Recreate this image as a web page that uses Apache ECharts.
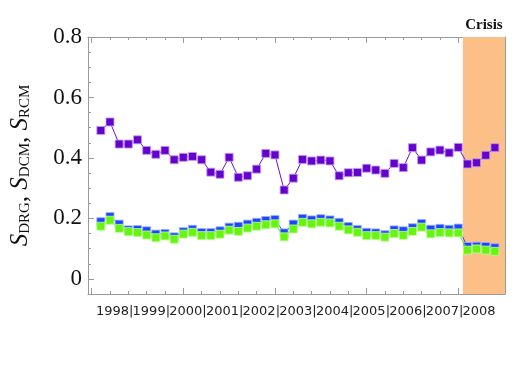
<!DOCTYPE html>
<html>
<head>
<meta charset="utf-8">
<script src="https://cdn.jsdelivr.net/npm/echarts@6/dist/echarts.min.js"></script>
<style>
  html, body { margin: 0; padding: 0; background: #fff; }
  #chart { width: 517px; height: 366px; }
</style>
</head>
<body>
<div id="chart"></div>
<script>
// quarterly values, 1998 Q1 .. 2008 Q4
const years = ['1998', '1999', '2000', '2001', '2002', '2003', '2004', '2005', '2006', '2007', '2008'];

const sDRG = [
  0.491, 0.519, 0.446, 0.446, 0.460, 0.425, 0.412, 0.425, 0.394, 0.402, 0.405,
  0.394, 0.353, 0.346, 0.402, 0.336, 0.341, 0.363, 0.415, 0.410, 0.294, 0.333,
  0.395, 0.390, 0.393, 0.390, 0.341, 0.351, 0.352, 0.366, 0.360, 0.349, 0.382,
  0.368, 0.434, 0.393, 0.420, 0.426, 0.417, 0.435, 0.380, 0.384, 0.409, 0.434
];
const sDCM = [
  0.189, 0.206, 0.181, 0.162, 0.163, 0.159, 0.148, 0.150, 0.139, 0.156, 0.164,
  0.153, 0.153, 0.159, 0.171, 0.174, 0.181, 0.187, 0.193, 0.196, 0.152, 0.181,
  0.200, 0.195, 0.199, 0.195, 0.187, 0.173, 0.163, 0.154, 0.152, 0.146, 0.162,
  0.159, 0.169, 0.183, 0.164, 0.167, 0.164, 0.168, 0.107, 0.108, 0.107, 0.103
];
const sRCM = [
  0.174, 0.194, 0.167, 0.156, 0.153, 0.145, 0.136, 0.142, 0.131, 0.148, 0.154,
  0.143, 0.143, 0.148, 0.161, 0.157, 0.168, 0.174, 0.179, 0.182, 0.139, 0.165,
  0.187, 0.182, 0.187, 0.185, 0.174, 0.162, 0.154, 0.143, 0.143, 0.138, 0.150,
  0.144, 0.157, 0.171, 0.149, 0.153, 0.152, 0.152, 0.095, 0.099, 0.095, 0.091
];

// crisis starts between 2007 Q4 and 2008 Q1
const crisisStart = 39.5;

const yLabels = [0, 0.2, 0.4, 0.6, 0.8];
const yMinorTicks = [-0.05, 0, 0.05, 0.1, 0.15, 0.2, 0.25, 0.3, 0.35, 0.4, 0.45, 0.5, 0.55, 0.6, 0.65, 0.7, 0.75, 0.8];
const xMinorTicks = [-1, 1, 3, 5, 7, 9, 11, 13, 15, 17, 19, 21, 23, 25, 27, 29, 31, 33, 35, 37, 39, 41, 43];
const xMajorTicks = [-1, 9, 19, 29, 39];

const xMin = -1.4, xMax = 44.1;
const yMin = -0.05, yMax = 0.8;
const frame = '#9a9a9a';

function pts(arr) {
  return arr.map((v, i) => [i, v]);
}

function xFrame(pos, ticks, len, line) {
  return {
    type: 'value', gridIndex: 0, position: pos, min: xMin, max: xMax,
    axisLine: { show: line, onZero: false, lineStyle: { color: frame, width: 1 } },
    axisTick: { show: true, inside: true, length: len, customValues: ticks, lineStyle: { color: frame } },
    axisLabel: { show: false },
    splitLine: { show: false }
  };
}

function yFrame(pos, ticks, len, line) {
  return {
    type: 'value', gridIndex: 0, position: pos, min: yMin, max: yMax,
    axisLine: { show: line, onZero: false, lineStyle: { color: frame, width: 1 } },
    axisTick: { show: true, inside: true, length: len, customValues: ticks, lineStyle: { color: frame } },
    axisLabel: { show: false },
    splitLine: { show: false }
  };
}

const chart = echarts.init(document.getElementById('chart'), null, { renderer: 'canvas' });

const yMain = yFrame('left', yLabels, 6, true);
yMain.axisLabel = {
  show: true,
  customValues: yLabels,
  margin: 6,
  fontFamily: 'Liberation Serif',
  fontSize: 23,
  color: '#111',
  formatter: v => (v === 0 ? '0' : v.toFixed(1))
};
yMain.name = '{s|S}{sub|DRG}{c|, }{s|S}{sub|DCM}{c|, }{s|S}{sub|RCM}';
yMain.nameLocation = 'middle';
yMain.nameRotate = 90;
yMain.nameGap = 55;
yMain.nameTextStyle = {
  fontFamily: 'Liberation Serif',
  color: '#111',
  rich: {
    s: { fontFamily: 'Liberation Serif', fontStyle: 'italic', fontSize: 25, lineHeight: 28, verticalAlign: 'bottom', color: '#111' },
    c: { fontFamily: 'Liberation Serif', fontSize: 25, lineHeight: 28, verticalAlign: 'bottom', color: '#111' },
    sub: { fontFamily: 'Liberation Serif', fontSize: 15, lineHeight: 12, verticalAlign: 'bottom', color: '#111' }
  }
};

const markerStyle = (fill, edge) => ({ color: fill, borderColor: edge, borderWidth: 1 });

chart.setOption({
  animation: false,
  backgroundColor: '#fff',
  grid: [
    { left: 88, right: 12, top: 37, bottom: 72 },
    { left: 96.3, right: 17.4, top: 37, bottom: 72 }
  ],
  xAxis: [
    xFrame('bottom', xMinorTicks, 3, true),
    xFrame('top', xMinorTicks, 3, true),
    xFrame('bottom', xMajorTicks, 6, false),
    xFrame('top', xMajorTicks, 6, false),
    {
      type: 'category', gridIndex: 1, position: 'bottom', data: years,
      boundaryGap: true,
      axisLine: { show: false },
      axisTick: { show: false },
      splitLine: { show: false },
      axisLabel: {
        interval: 0,
        margin: 11,
        fontFamily: 'DejaVu Sans',
        fontSize: 13,
        color: '#222',
        // last label gets a hidden separator so all labels keep the same width
        formatter: (v, idx) => (idx < years.length - 1 ? v + '|' : v + '{h||}'),
        rich: {
          h: { fontFamily: 'DejaVu Sans', fontSize: 13, color: 'rgba(0,0,0,0)' }
        }
      }
    }
  ],
  yAxis: [
    yMain,
    yFrame('right', yLabels, 6, true),
    yFrame('left', yMinorTicks, 3, false),
    yFrame('right', yMinorTicks, 3, false),
    { type: 'value', gridIndex: 1, show: false }
  ],
  series: [
    {
      name: 'crisis',
      type: 'line',
      xAxisIndex: 0, yAxisIndex: 0,
      data: [],
      z: 1,
      markArea: {
        silent: true,
        itemStyle: { color: '#fdbf88', opacity: 1 },
        label: {
          show: true,
          position: 'top',
          distance: 4,
          formatter: 'Crisis',
          fontFamily: 'Liberation Serif',
          fontWeight: 'bold',
          fontSize: 15,
          color: '#111'
        },
        data: [[{ xAxis: crisisStart }, { xAxis: xMax }]]
      }
    },
    {
      name: 'DCM',
      type: 'line',
      xAxisIndex: 0, yAxisIndex: 0,
      data: pts(sDCM),
      z: 3,
      symbol: 'rect',
      symbolSize: 8,
      lineStyle: { color: '#1f45ff', width: 1 },
      itemStyle: markerStyle('#1a46ff', 'rgba(150,170,255,0.8)')
    },
    {
      name: 'RCM',
      type: 'line',
      xAxisIndex: 0, yAxisIndex: 0,
      data: pts(sRCM),
      z: 4,
      symbol: 'rect',
      symbolSize: 8,
      lineStyle: { color: '#5ee80a', width: 1 },
      itemStyle: markerStyle('#66f50f', 'rgba(190,255,150,0.8)')
    },
    {
      name: 'DRG',
      type: 'line',
      xAxisIndex: 0, yAxisIndex: 0,
      data: pts(sDRG),
      z: 5,
      symbol: 'rect',
      symbolSize: 8,
      lineStyle: { color: '#6a10d8', width: 1 },
      itemStyle: markerStyle('#6600cc', 'rgba(190,160,240,0.85)')
    }
  ]
});
</script>
</body>
</html>
